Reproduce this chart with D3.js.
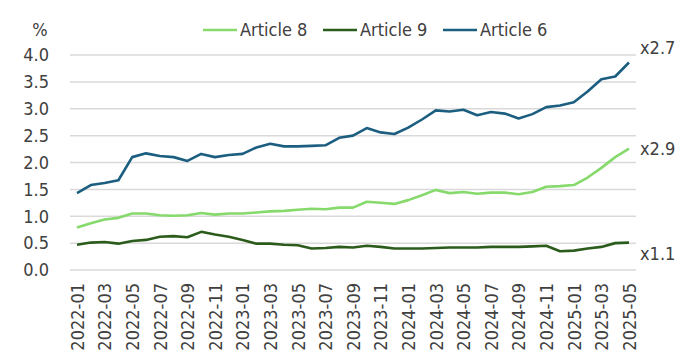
<!DOCTYPE html>
<html><head><meta charset="utf-8">
<script src="https://cdn.jsdelivr.net/npm/d3@7"></script>
<style>
body{margin:0;background:#fff;}
text{font-family:"Liberation Sans Narrow","DejaVu Sans Condensed",sans-serif;fill:#404040;}
</style></head>
<body><svg id="c" width="696" height="356"></svg>
<script>
const months = [];
for (let y = 2022; y <= 2025; y++) for (let m = 1; m <= 12; m++) { if (y === 2025 && m > 5) break; months.push(y + "-" + String(m).padStart(2, "0")); }

const article8 = [0.79,0.87,0.94,0.97,1.05,1.05,1.02,1.01,1.02,1.06,1.03,1.05,
  1.05,1.07,1.09,1.10,1.12,1.14,1.13,1.16,1.16,1.27,1.25,1.23,
  1.30,1.39,1.49,1.43,1.45,1.42,1.44,1.44,1.41,1.45,1.55,1.56,
  1.58,1.72,1.90,2.10,2.26];
const article9 = [0.47,0.51,0.52,0.49,0.54,0.56,0.62,0.63,0.61,0.71,0.66,0.62,
  0.56,0.49,0.49,0.47,0.46,0.40,0.41,0.43,0.42,0.45,0.43,0.40,
  0.40,0.40,0.41,0.42,0.42,0.42,0.43,0.43,0.43,0.44,0.45,0.35,
  0.36,0.40,0.43,0.50,0.51];
const article6 = [1.43,1.58,1.62,1.67,2.10,2.17,2.12,2.10,2.03,2.16,2.10,2.14,
  2.16,2.28,2.35,2.30,2.30,2.31,2.32,2.46,2.50,2.64,2.56,2.53,
  2.65,2.80,2.97,2.95,2.98,2.88,2.94,2.91,2.82,2.90,3.03,3.06,
  3.12,3.32,3.55,3.60,3.86];
const seriesNames = ["Article 8","Article 9","Article 6"];
const growthLabels = ["x2.9","x1.1","x2.7"];
const yTicks = [0,0.5,1,1.5,2,2.5,3,3.5,4];
const xTickLabels = months.filter((d,i)=>i%2===0);

const colors = ["#86d96b","#2b5c1c","#1b5e80"];
const labelDy = [0, 11, -15];
const series = [article8, article9, article6];

const svg = d3.select("#c");
const x = d3.scalePoint().domain(months).range([77, 629]);
const y = d3.scaleLinear().domain([0,4]).range([270, 55]);

// gridlines
svg.append("g").selectAll("line").data(yTicks).join("line")
  .attr("x1",70).attr("x2",636).attr("y1",d=>y(d)).attr("y2",d=>y(d))
  .attr("stroke","#d9d9d9").attr("stroke-width",1.5);

// y axis labels
const ya = svg.append("g").attr("transform","translate(49,0)")
  .call(d3.axisLeft(y).tickValues(yTicks).tickFormat(d3.format(".1f")).tickSize(0).tickPadding(0));
ya.select(".domain").remove();
ya.selectAll("text").attr("font-size",18).style("font-family",null).attr("fill","#404040");
svg.append("text").attr("x",40).attr("y",36).attr("text-anchor","middle").attr("font-size",18).text("%");

// x axis labels
const xa = svg.append("g").attr("transform","translate(0,283)")
  .call(d3.axisBottom(x).tickValues(xTickLabels).tickSize(0).tickPadding(0));
xa.select(".domain").remove();
xa.selectAll("text").attr("font-size",18).style("font-family",null).attr("fill","#404040")
  .attr("transform","rotate(-90)").attr("text-anchor","end").attr("x",0).attr("y",0).attr("dy","0.35em");

// lines
const line = d3.line().x((d,i)=>x(months[i])).y(d=>y(d));
svg.append("g").selectAll("path").data(series).join("path")
  .attr("d",line).attr("fill","none").attr("stroke",(d,i)=>colors[i])
  .attr("stroke-width",2.6).attr("stroke-linejoin","round");

// growth labels
svg.append("g").selectAll("text").data(series).join("text")
  .attr("x",640).attr("y",(d,i)=>y(d[d.length-1])+labelDy[i]).attr("dy","0.35em")
  .attr("font-size",18).text((d,i)=>growthLabels[i]);

// legend
const legX = [203, 323, 443];
const lg = svg.append("g").selectAll("g").data(seriesNames).join("g")
  .attr("transform",(d,i)=>`translate(${legX[i]},30)`);
lg.append("line").attr("x1",0).attr("x2",34).attr("stroke",(d,i)=>colors[i]).attr("stroke-width",2.6);
lg.append("text").attr("x",37).attr("dy","0.35em").attr("font-size",18).text(d=>d);
</script></body></html>
